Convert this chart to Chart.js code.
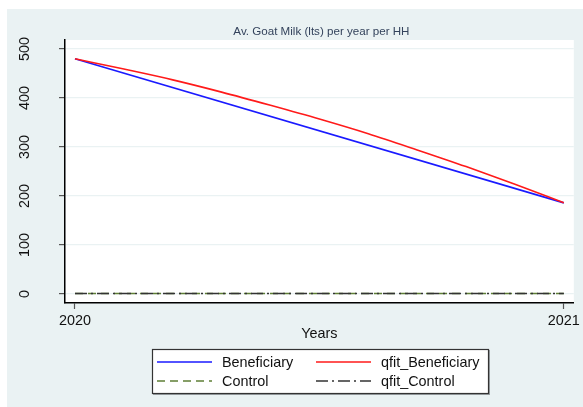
<!DOCTYPE html>
<html>
<head>
<meta charset="utf-8">
<script src="https://cdn.jsdelivr.net/npm/chart.js@4.4.0/dist/chart.umd.min.js"></script>
<style>
html,body{margin:0;padding:0;background:#fff;}
#wrap{width:583px;height:407px;position:relative;}
</style>
</head>
<body>
<div id="wrap"><canvas id="c" width="583" height="407"></canvas></div>
<script>
// ---- data ----
const titleText = "Av. Goat Milk (lts) per year per HH";
const xTitle = "Years";
const yTicks = [0, 100, 200, 300, 400, 500];
const xTicks = [2020, 2021];

const benefX = [2020, 2021];
const benefY = [480, 186];

const qfitBenefX = [2020, 2020.1, 2020.2, 2020.3, 2020.4, 2020.5, 2020.6, 2020.7, 2020.8, 2020.9, 2021];
const qfitBenefY = [480, 459, 437, 412, 385, 357, 327, 294, 260, 224, 186];

const controlX = [2020, 2021];
const controlY = [1, 1];

const qfitControlX = [2020, 2021];
const qfitControlY = [1, 1];

const labels = ["Beneficiary", "qfit_Beneficiary", "Control", "qfit_Control"];

function pts(xs, ys){ return xs.map((x,i)=>({x:x, y:ys[i]})); }

const FONT = "'Liberation Sans', Arial, sans-serif";
const BG = "#EAF2F3";

const bgPlugin = {
  id: 'bg',
  beforeDraw(chart){
    const ctx = chart.ctx, a = chart.chartArea;
    ctx.save();
    ctx.fillStyle = '#ffffff';
    ctx.fillRect(0,0,chart.width,chart.height);
    ctx.fillStyle = BG;
    ctx.fillRect(7,9,chart.width-7,chart.height-9);
    ctx.fillStyle = '#ffffff';
    ctx.fillRect(a.left, a.top, a.right-a.left, a.bottom-a.top);
    ctx.restore();
  }
};

const titlePlugin = {
  id: 'areaTitle',
  afterDraw(chart){
    const ctx = chart.ctx, a = chart.chartArea;
    ctx.save();
    ctx.font = "11.6px " + FONT;
    ctx.fillStyle = '#34435c';
    ctx.textAlign = 'center';
    ctx.textBaseline = 'middle';
    ctx.fillText(titleText, (a.left + a.right)/2 + 2, a.top - 8);
    ctx.restore();
  }
};

const legendPlugin = {
  id: 'boxLegend',
  afterDraw(chart){
    const ctx = chart.ctx;
    const ds = chart.data.datasets;
    const bx = 152, by = 349, bw = 337, bh = 45;
    ctx.save();
    ctx.fillStyle = '#9aa0a3';
    ctx.fillRect(bx+1, by+1, bw, bh);
    ctx.fillStyle = '#ffffff';
    ctx.fillRect(bx, by, bw, bh);
    ctx.strokeStyle = '#333333';
    ctx.lineWidth = 1.2;
    ctx.strokeRect(bx+0.5, by+0.5, bw-1, bh-1);
    const order = [0,1,2,3];
    const cols = [{lx:157, tx:222},{lx:316, tx:381}];
    const rows = [362, 381];
    ctx.font = "14.4px " + FONT;
    ctx.textBaseline = 'middle';
    ctx.textAlign = 'left';
    order.forEach((di, k)=>{
      const d = ds[di];
      const c = cols[k%2], r = rows[Math.floor(k/2)];
      ctx.beginPath();
      ctx.setLineDash(d.borderDash || []);
      ctx.strokeStyle = d.borderColor;
      ctx.lineWidth = 1.5;
      ctx.moveTo(c.lx, r); ctx.lineTo(c.lx+55, r);
      ctx.stroke();
      ctx.setLineDash([]);
      ctx.fillStyle = '#111111';
      ctx.fillText(d.label, c.tx, r+1);
    });
    ctx.restore();
  }
};

const chart = new Chart(document.getElementById('c'), {
  type: 'line',
  data: {
    datasets: [
      {label: labels[0], data: pts(benefX, benefY), borderColor: '#1a1aff', borderWidth: 1.6, pointRadius: 0, fill: false, order: 2},
      {label: labels[1], data: pts(qfitBenefX, qfitBenefY), borderColor: '#ff1a1a', borderWidth: 1.6, pointRadius: 0, fill: false, tension: 0.4, cubicInterpolationMode: 'monotone', order: 1},
      {label: labels[2], data: pts(controlX, controlY), borderColor: '#5f7f36', borderWidth: 1.6, borderDash: [8,5], pointRadius: 0, fill: false, order: 4},
      {label: labels[3], data: pts(qfitControlX, qfitControlY), borderColor: '#333333', borderWidth: 1.6, borderDash: [12,4,2,4], pointRadius: 0, fill: false, order: 3}
    ]
  },
  options: {
    responsive: false,
    animation: false,
    devicePixelRatio: 1,
    layout: {padding: {left: 0, right: 8, top: 40, bottom: 64}},
    plugins: {
      legend: {display: false},
      tooltip: {enabled: false},
      title: {display: false}
    },
    scales: {
      x: {
        type: 'linear',
        min: 2020 - 10/490, max: 2021 + 10/490,
        afterBuildTicks(s){ s.ticks = xTicks.map(v=>({value:v})); },
        afterFit(s){ s.height = 40; },
        grid: {drawOnChartArea: false, drawTicks: true, tickLength: 6, tickColor: '#555555', tickWidth: 1.2},
        border: {display: true, color: '#000000', width: 1.5},
        ticks: {color: '#111111', font: {family: FONT, size: 14.4}, padding: 3, maxRotation: 0, minRotation: 0,
                callback: v => String(v)},
        title: {display: true, text: xTitle, color: '#111111', font: {family: FONT, size: 14.4}, padding: {top: 0, bottom: 0}}
      },
      y: {
        type: 'linear',
        min: -(303-294)/0.49, max: (294-40)/0.49,
        afterBuildTicks(s){ s.ticks = yTicks.map(v=>({value:v})); },
        afterFit(s){ s.width = 65; },
        grid: {drawOnChartArea: true, color: BG, lineWidth: 1.2, drawTicks: true, tickLength: 6, tickColor: '#555555', tickWidth: 1.2},
        border: {display: true, color: '#000000', width: 1.5},
        ticks: {color: '#111111', font: {family: FONT, size: 14.4}, padding: 22, minRotation: 90, maxRotation: 90, crossAlign: 'center',
                callback: v => String(v)}
      }
    }
  },
  plugins: [bgPlugin, titlePlugin, legendPlugin]
});
</script>
</body>
</html>
